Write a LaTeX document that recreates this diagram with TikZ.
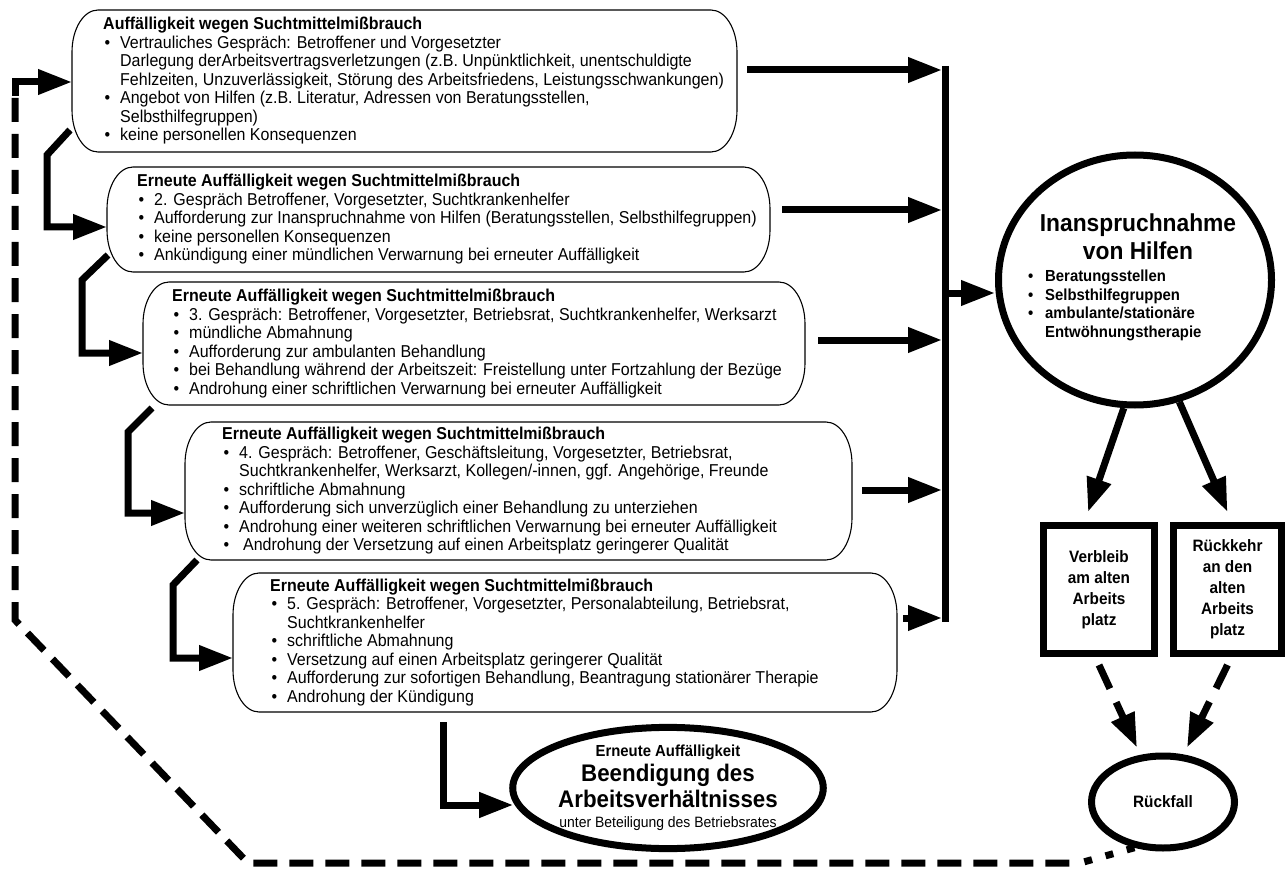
\documentclass[tikz,border=0pt]{standalone}
\usepackage{fontspec}
\setmainfont{Liberation Sans}[FakeStretch=0.93]
\usetikzlibrary{arrows.meta,calc,shapes.geometric}
\newcommand\bul{\makebox[17pt][l]{\hspace{1.5pt}•}}
\newcommand\ind{\hspace*{17pt}}
\newcommand\ebox[1]{%
 \draw[boxline] ([xshift=26pt]#1.north west) -- ([xshift=-26pt]#1.north east)
  .. controls ([xshift=-11.65pt]#1.north east) and ([yshift=-18.8pt]#1.north east) .. ([yshift=-42pt]#1.north east)
  -- ([yshift=42pt]#1.south east)
  .. controls ([yshift=18.8pt]#1.south east) and ([xshift=-11.65pt]#1.south east) .. ([xshift=-26pt]#1.south east)
  -- ([xshift=26pt]#1.south west)
  .. controls ([xshift=11.65pt]#1.south west) and ([yshift=18.8pt]#1.south west) .. ([yshift=42pt]#1.south west)
  -- ([yshift=-42pt]#1.north west)
  .. controls ([yshift=-18.8pt]#1.north west) and ([xshift=11.65pt]#1.north west) .. ([xshift=26pt]#1.north west)
  -- cycle;}
\tikzset{
  boxline/.style={line width=1.1pt},
  frame/.style={draw=none, rectangle, inner sep=0pt, outer sep=0pt, anchor=north west},
  btext/.style={anchor=west, align=left, inner sep=0pt, font=\fontsize{17.2}{18.5}\selectfont},
  fat/.style={line width=7pt},
  fatarrow/.style={line width=7pt, -{Triangle[length=34pt,width=24pt]}},
  dasharrow/.style={line width=7pt, dash pattern=on 26pt off 15pt, -{Triangle[length=34pt,width=24pt]}},
  heavy/.style={draw, line width=7pt, inner sep=0pt}
}
\begin{document}
\begin{tikzpicture}[x=1pt,y=-1pt]
\fill[white] (0,0) rectangle (1288,869);
\useasboundingbox (0,0) rectangle (1288,869);

% boxes
\node[frame, minimum width=665pt, minimum height=142pt] (b1) at (72,10) {};
\node[frame, minimum width=663pt, minimum height=105pt] (b2) at (107,167) {};
\node[frame, minimum width=662pt, minimum height=123pt] (b3) at (143,282) {};
\node[frame, minimum width=667pt, minimum height=138pt] (b4) at (185,422) {};
\node[frame, minimum width=664pt, minimum height=139pt] (b5) at (233,573) {};
\foreach \b in {b1,b2,b3,b4,b5} {\ebox{\b}}

\node[btext] (t1) at ([xshift=31pt]b1.west) {\textbf{Auffälligkeit wegen Suchtmittelmißbrauch}\\
\bul Vertrauliches Gespräch: Betroffener und Vorgesetzter\\
\ind Darlegung derArbeitsvertragsverletzungen (z.B. Unpünktlichkeit, unentschuldigte\\
\ind Fehlzeiten, Unzuverlässigkeit, Störung des Arbeitsfriedens, Leistungsschwankungen)\\
\bul Angebot von Hilfen (z.B. Literatur, Adressen von Beratungsstellen,\\
\ind Selbsthilfegruppen)\\
\bul keine personellen Konsequenzen};

\node[btext] (t2) at ([xshift=30pt]b2.west) {\textbf{Erneute Auffälligkeit wegen Suchtmittelmißbrauch}\\
\bul 2. Gespräch Betroffener, Vorgesetzter, Suchtkrankenhelfer\\
\bul Aufforderung zur Inanspruchnahme von Hilfen (Beratungsstellen, Selbsthilfegruppen)\\
\bul keine personellen Konsequenzen\\
\bul Ankündigung einer mündlichen Verwarnung bei erneuter Auffälligkeit};

\node[btext] (t3) at ([xshift=29pt]b3.west) {\textbf{Erneute Auffälligkeit wegen Suchtmittelmißbrauch}\\
\bul 3. Gespräch: Betroffener, Vorgesetzter, Betriebsrat, Suchtkrankenhelfer, Werksarzt\\
\bul mündliche Abmahnung\\
\bul Aufforderung zur ambulanten Behandlung\\
\bul bei Behandlung während der Arbeitszeit: Freistellung unter Fortzahlung der Bezüge\\
\bul Androhung einer schriftlichen Verwarnung bei erneuter Auffälligkeit};

\node[btext] (t4) at ([xshift=37pt]b4.west) {\textbf{Erneute Auffälligkeit wegen Suchtmittelmißbrauch}\\
\bul 4. Gespräch: Betroffener, Geschäftsleitung, Vorgesetzter, Betriebsrat,\\
\ind Suchtkrankenhelfer, Werksarzt, Kollegen/-innen, ggf. Angehörige, Freunde\\
\bul schriftliche Abmahnung\\
\bul Aufforderung sich unverzüglich einer Behandlung zu unterziehen\\
\bul Androhung einer weiteren schriftlichen Verwarnung bei erneuter Auffälligkeit\\
\bul\hspace{4pt}Androhung der Versetzung auf einen Arbeitsplatz geringerer Qualität};

\node[btext] (t5) at ([xshift=37pt]b5.west) {\textbf{Erneute Auffälligkeit wegen Suchtmittelmißbrauch}\\
\bul 5. Gespräch: Betroffener, Vorgesetzter, Personalabteilung, Betriebsrat,\\
\ind Suchtkrankenhelfer\\
\bul schriftliche Abmahnung\\
\bul Versetzung auf einen Arbeitsplatz geringerer Qualität\\
\bul Aufforderung zur sofortigen Behandlung, Beantragung stationärer Therapie\\
\bul Androhung der Kündigung};

% final ellipse
\node[ellipse, heavy, minimum width=292pt, minimum height=103pt, align=center,
      font=\bfseries\fontsize{24}{26}\selectfont] (ell) at (668,788)
  {{\fontsize{16}{17}\selectfont Erneute Auffälligkeit}\\[-1pt]
   Beendigung des\\
   Arbeitsverhältnisses\\[-6pt]
   {\mdseries\fontsize{15}{16}\selectfont unter Beteiligung des Betriebsrates}};

% right side
\node[ellipse, heavy, minimum width=273pt, minimum height=250pt] (circ) at (1135,280) {};
\node[align=center, inner sep=0pt, font=\bfseries\fontsize{24.5}{28}\selectfont] (circT) at (1138,237) {Inanspruchnahme\\von Hilfen};
\node[align=left, anchor=north west, inner sep=0pt, font=\bfseries\fontsize{16}{18.5}\selectfont] (circL) at (1028,270)
  {\makebox[17pt][l]{•}Beratungsstellen\\ \makebox[17pt][l]{•}Selbsthilfegruppen\\ \makebox[17pt][l]{•}ambulante/stationäre\\ \hspace*{17pt}Entwöhnungstherapie};

\node[heavy, minimum width=111pt, minimum height=128pt, align=center, font=\bfseries\fontsize{16.5}{21}\selectfont] (vb) at (1099,589.5) {Verbleib\\am alten\\Arbeits\\platz};
\node[heavy, minimum width=108pt, minimum height=128pt, align=center, font=\bfseries\fontsize{16.5}{21}\selectfont] (rk) at (1227.5,589.5) {Rückkehr\\an den\\alten\\Arbeits\\platz};
\node[ellipse, heavy, minimum width=143pt, minimum height=92pt, font=\bfseries\fontsize{16.5}{18}\selectfont] (rf) at (1163,802) {Rückfall};

% collecting bar
\coordinate (barTop) at (945,66);
\coordinate (barBot) at (945,622);
\draw[fat] (barTop) -- (barBot);
\coordinate (h1) at (942,70);
\coordinate (h2) at (942,210);
\coordinate (h3) at (942,340);
\coordinate (h4) at (942,490);
\coordinate (h5) at (942,618);
\coordinate (hub) at (945,293);
\draw[fatarrow] ([xshift=10pt]h1 -| b1.east) -- (h1);
\draw[fatarrow] ([xshift=12pt]h2 -| b2.east) -- (h2);
\draw[fatarrow] ([xshift=13pt]h3 -| b3.east) -- (h3);
\draw[fatarrow] ([xshift=10pt]h4 -| b4.east) -- (h4);
\draw[fatarrow] ([xshift=6pt]h5 -| b5.east) -- (h5);
\draw[fatarrow] (hub) -- (hub -| circ.west);

% step connectors
\draw[fatarrow] ([xshift=-2pt,yshift=22pt]b1.south west) -- ++(-23,25) |- ([yshift=-7.5pt]b2.west);
\draw[fatarrow] ([xshift=1pt,yshift=17pt]b2.south west) -- ++(-26,25) |- ([yshift=-9.5pt]b3.west);
\draw[fatarrow] ([xshift=9pt,yshift=-3pt]b3.south west) -- ++(-24,24) |- ([yshift=-22pt]b4.west);
\draw[fatarrow] ([xshift=12pt]b4.south west) -- ++(-24,25) |- ([yshift=-15.5pt]b5.west);
\draw[fatarrow] ([xshift=210pt,yshift=-10pt]b5.south west) |- ([xshift=4pt,yshift=-17pt]ell.west);

% circle to boxes
\draw[fatarrow] (circ.265) -- ([xshift=-11pt,yshift=10pt]vb.north);
\draw[fatarrow] (circ.290) -- ([yshift=10pt]rk.north);
\draw[dasharrow] ([yshift=-8pt]vb.south) -- ([xshift=-26pt,yshift=5pt]rf.north);
\draw[dasharrow] ([yshift=-8pt]rk.south) -- ([xshift=24pt,yshift=5pt]rf.north);

% feedback loop
\coordinate (lpTop) at (15,82);
\coordinate (lpBend) at (15,620);
\coordinate (lpDiag) at (248,863);
\coordinate (lpEnd) at (1080,863);
\draw[fat, dash pattern=on 24pt off 12pt] ([yshift=-16pt]lpTop) -- (lpBend) -- (lpDiag) -- (lpEnd);
\draw[fatarrow] ([yshift=-14pt]lpTop) -- (lpTop) -- (lpTop -| b1.west);
\draw[line width=7pt, dash pattern=on 8pt off 14pt] (rf.238) -- (lpEnd);
\end{tikzpicture}
\end{document}
